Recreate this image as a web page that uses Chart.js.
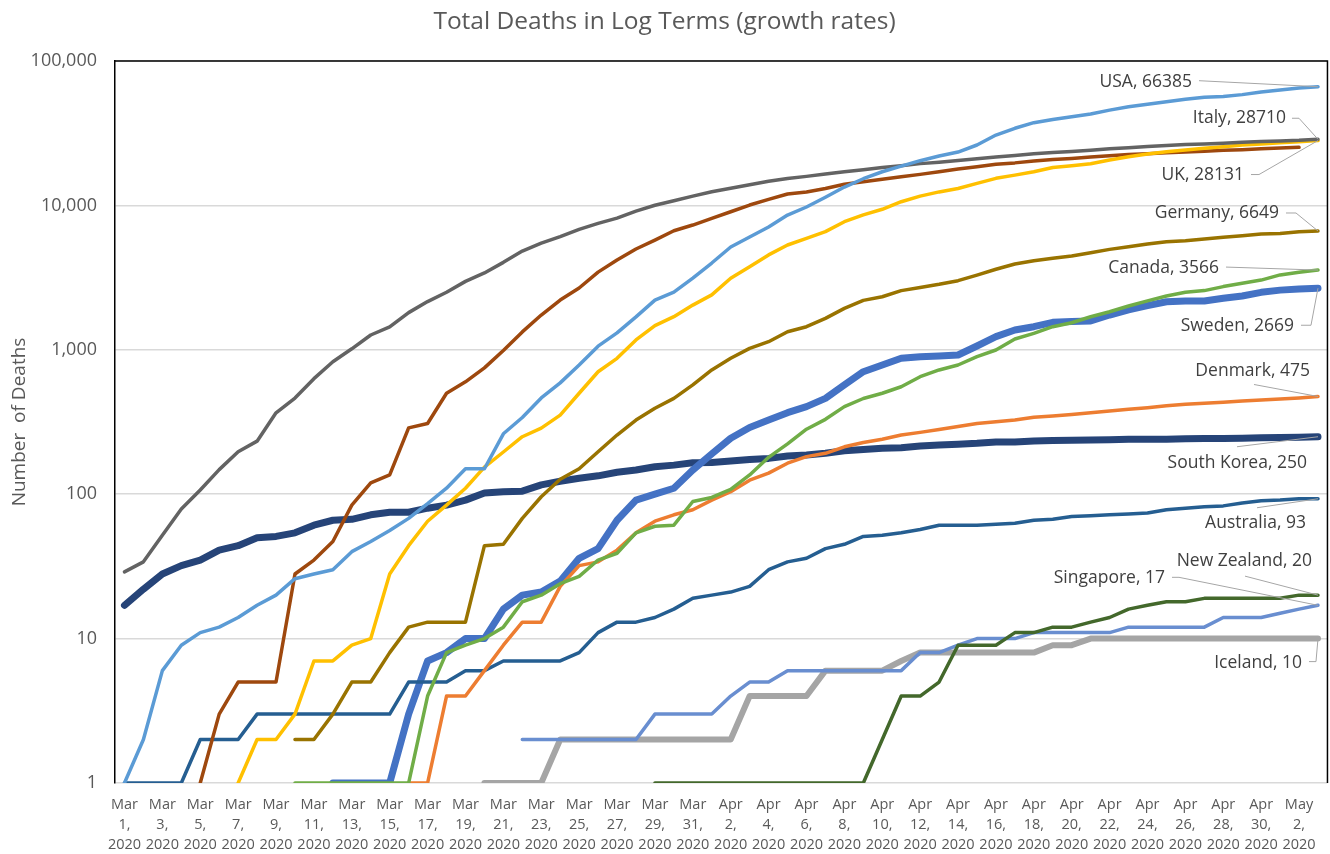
<!DOCTYPE html>
<html>
<head>
<meta charset="utf-8">
<title>Total Deaths in Log Terms</title>
<script src="https://cdn.jsdelivr.net/npm/chart.js@4.4.1/dist/chart.umd.min.js"></script>
<style>
  html, body { margin: 0; padding: 0; background: #fff; }
  #wrap { width: 1330px; height: 854px; }
</style>
</head>
<body>
<div id="wrap"><canvas id="chart-deaths" width="1330" height="854"></canvas></div>
<script>
// days Mar 1 .. May 3 2020
const days = [
  'Mar 1, 2020', 'Mar 2, 2020', 'Mar 3, 2020', 'Mar 4, 2020', 'Mar 5, 2020', 'Mar 6, 2020', 'Mar 7, 2020', 'Mar 8, 2020',
  'Mar 9, 2020', 'Mar 10, 2020', 'Mar 11, 2020', 'Mar 12, 2020', 'Mar 13, 2020', 'Mar 14, 2020', 'Mar 15, 2020', 'Mar 16, 2020',
  'Mar 17, 2020', 'Mar 18, 2020', 'Mar 19, 2020', 'Mar 20, 2020', 'Mar 21, 2020', 'Mar 22, 2020', 'Mar 23, 2020', 'Mar 24, 2020',
  'Mar 25, 2020', 'Mar 26, 2020', 'Mar 27, 2020', 'Mar 28, 2020', 'Mar 29, 2020', 'Mar 30, 2020', 'Mar 31, 2020',
  'Apr 1, 2020', 'Apr 2, 2020', 'Apr 3, 2020', 'Apr 4, 2020', 'Apr 5, 2020', 'Apr 6, 2020', 'Apr 7, 2020', 'Apr 8, 2020',
  'Apr 9, 2020', 'Apr 10, 2020', 'Apr 11, 2020', 'Apr 12, 2020', 'Apr 13, 2020', 'Apr 14, 2020', 'Apr 15, 2020', 'Apr 16, 2020',
  'Apr 17, 2020', 'Apr 18, 2020', 'Apr 19, 2020', 'Apr 20, 2020', 'Apr 21, 2020', 'Apr 22, 2020', 'Apr 23, 2020', 'Apr 24, 2020',
  'Apr 25, 2020', 'Apr 26, 2020', 'Apr 27, 2020', 'Apr 28, 2020', 'Apr 29, 2020', 'Apr 30, 2020',
  'May 1, 2020', 'May 2, 2020', 'May 3, 2020'
];

const yTicks = [1, 10, 100, 1000, 10000, 100000];

const _ = null;

// cumulative deaths, one value per day (null = not plotted)
const usa = [
  1, 2, 6, 9, 11, 12, 14, 17, 20, 26, 28, 30, 40, 47, 56, 68, 86, 110, 150, 150, 262, 340, 464, 590, 785, 1060, 1310, 1690, 2210, 2510, 3140,
  3990, 5150, 6040, 7080, 8570, 9750, 11400, 13400, 15300, 17100, 18700, 20400, 22000, 23400, 26200, 30700, 34200, 37400, 39400, 41100,
  42900, 45700, 48200, 50100, 52300, 54300, 56100, 56800, 58500, 61000,
  63000, 64900, 66385
];
const italy = [
  29, 34, 52, 79, 107, 148, 197, 233, 366, 463, 631, 827, 1016, 1266, 1441, 1809, 2158, 2503, 2978, 3405, 4032, 4825, 5476, 6077, 6820,
  7503, 8165, 9134, 10023, 10779, 11591,
  12428, 13155, 13915, 14681, 15362, 15887, 16523, 17127, 17669, 18279, 18849, 19468, 19899, 20465, 21067, 21645, 22170, 22745, 23227,
  23660, 24114, 24648, 25085, 25549, 25969, 26384, 26644, 26977, 27359, 27682,
  27967, 28236, 28710
];
const spain = [
  _, _, _, _, 1, 3, 5, 5, 5, 28, 35, 47, 84, 120, 136, 288, 309, 500, 600, 750, 990, 1330, 1740, 2210, 2680, 3450, 4190, 4990, 5750, 6680, 7310,
  8130, 9040, 10060, 11000, 12000, 12400, 13100, 14000, 14600, 15200, 15800, 16400, 17100, 17850, 18500, 19300, 19700, 20300, 20800,
  21150, 21600, 22100, 22500, 22800, 23150, 23400, 23700, 24050, 24300, 24650,
  24950, 25250, _
];
const uk = [
  _, _, _, _, _, _, 1, 2, 2, 3, 7, 7, 9, 10, 28, 44, 65, 84, 110, 154, 196, 250, 287, 353, 500, 705, 873, 1170, 1470, 1695, 2040,
  2400, 3130, 3760, 4540, 5320, 5920, 6580, 7710, 8600, 9400, 10600, 11600, 12400, 13100, 14200, 15400, 16200, 17100, 18300,
  18800, 19400, 20600, 21700, 22700, 23500, 24200, 24900, 25500, 26200, 26600,
  27200, 27600, 28131
];
const germany = [
  _, _, _, _, _, _, _, _, _, 2, 2, 3, 5, 5, 8, 12, 13, 13, 13, 44, 45, 68, 96, 127, 150, 197, 257, 326, 394, 461, 571,
  725, 873, 1023, 1138, 1334, 1445, 1650, 1936, 2200, 2330, 2570, 2700, 2840, 3010, 3290, 3610, 3930, 4140, 4300,
  4460, 4700, 4960, 5180, 5400, 5610, 5700, 5850, 6010, 6170, 6340,
  6400, 6580, 6649
];
const canada = [
  _, _, _, _, _, _, _, _, _, 1, 1, 1, 1, 1, 1, 1, 4, 8, 9, 10, 12, 18, 20, 24, 27, 35, 39, 54, 60, 61, 89,
  95, 108, 136, 180, 223, 282, 330, 404, 460, 500, 555, 651, 725, 785, 896, 997, 1188, 1300, 1445,
  1540, 1695, 1835, 2010, 2180, 2360, 2500, 2570, 2740, 2890, 3040,
  3300, 3440, 3566
];
const sweden = [
  _, _, _, _, _, _, _, _, _, _, _, 1, 1, 1, 1, 3, 7, 8, 10, 10, 16, 20, 21, 25, 36, 42, 66, 91, 100, 110, 147,
  190, 244, 290, 326, 367, 404, 461, 571, 705, 785, 873, 896, 905, 920, 1063, 1233, 1370, 1445, 1550,
  1570, 1585, 1741, 1888, 2020, 2150, 2180, 2180, 2275, 2360, 2500,
  2590, 2640, 2669
];
const denmark = [
  _, _, _, _, _, _, _, _, _, _, _, _, _, _, _, 1, 1, 4, 4, 6, 9, 13, 13, 23, 32, 34, 41, 54, 65, 72, 78,
  91, 104, 125, 140, 164, 182, 192, 213, 228, 240, 257, 268, 281, 294, 309, 318, 326, 341, 348,
  357, 367, 377, 387, 397, 410, 419, 426, 433, 442, 449,
  456, 464, 475
];
const southKorea = [
  17, 22, 28, 32, 35, 41, 44, 50, 51, 54, 61, 66, 67, 72, 75, 75, 80, 84, 91, 102, 104, 105, 116, 123, 129, 134, 142, 147, 155, 159, 165,
  166, 170, 174, 177, 184, 187, 192, 200, 204, 208, 210, 216, 219, 222, 225, 230, 230, 234, 235,
  236, 237, 238, 240, 240, 240, 242, 243, 243, 244, 246,
  247, 248, 250
];
const australia = [
  1, 1, 1, 1, 2, 2, 2, 3, 3, 3, 3, 3, 3, 3, 3, 5, 5, 5, 6, 6, 7, 7, 7, 7, 8, 11, 13, 13, 14, 16, 19,
  20, 21, 23, 30, 34, 36, 42, 45, 51, 52, 54, 57, 61, 61, 61, 62, 63, 66, 67,
  70, 71, 72, 73, 74, 78, 80, 82, 83, 87, 90,
  91, 93, 93
];
const newZealand = [
  _, _, _, _, _, _, _, _, _, _, _, _, _, _, _, _, _, _, _, _, _, _, _, _, _, _, _, _, 1, 1, 1,
  1, 1, 1, 1, 1, 1, 1, 1, 1, 2, 4, 4, 5, 9, 9, 9, 11, 11, 12,
  12, 13, 14, 16, 17, 18, 18, 19, 19, 19, 19,
  19, 20, 20
];
const singapore = [
  _, _, _, _, _, _, _, _, _, _, _, _, _, _, _, _, _, _, _, _, _, 2, 2, 2, 2, 2, 2, 2, 3, 3, 3,
  3, 4, 5, 5, 6, 6, 6, 6, 6, 6, 6, 8, 8, 9, 10, 10, 10, 11, 11,
  11, 11, 11, 12, 12, 12, 12, 12, 14, 14, 14,
  15, 16, 17
];
const iceland = [
  _, _, _, _, _, _, _, _, _, _, _, _, _, _, _, _, _, _, _, 1, 1, 1, 1, 2, 2, 2, 2, 2, 2, 2, 2,
  2, 2, 4, 4, 4, 4, 6, 6, 6, 6, 7, 8, 8, 8, 8, 8, 8, 8, 9,
  9, 10, 10, 10, 10, 10, 10, 10, 10, 10, 10,
  10, 10, 10
];

const series = [
  { name: 'USA', data: usa, color: '#5B9BD5', width: 3.5 },
  { name: 'Italy', data: italy, color: '#636363', width: 3.5 },
  { name: 'UK', data: uk, color: '#FFC000', width: 3.5 },
  { name: 'Spain', data: spain, color: '#9E480E', width: 3.5 },
  { name: 'Germany', data: germany, color: '#997300', width: 3.5 },
  { name: 'Canada', data: canada, color: '#70AD47', width: 3.5 },
  { name: 'Denmark', data: denmark, color: '#ED7D31', width: 3.5 },
  { name: 'Australia', data: australia, color: '#255E91', width: 3.5 },
  { name: 'New Zealand', data: newZealand, color: '#43682B', width: 3.5 },
  { name: 'Singapore', data: singapore, color: '#698ED0', width: 3.5 },
  { name: 'Sweden', data: sweden, color: '#4472C4', width: 7 },
  { name: 'South Korea', data: southKorea, color: '#264478', width: 7 },
  { name: 'Iceland', data: iceland, color: '#A5A5A5', width: 6 }
];

// where each end label sits, relative to the last point of its line
const endLabels = [
  { name: 'USA', tx: -126, ty: -5, leader: [[-119, -6]] },
  { name: 'Italy', tx: -32, ty: -21, leader: [[-26, -21], [-19, -21]] },
  { name: 'UK', tx: -74, ty: 34, leader: [[-67, 34], [-59, 34]] },
  { name: 'Germany', tx: -39, ty: -18, leader: [[-32, -18], [-22, -18]] },
  { name: 'Canada', tx: -99, ty: -2, leader: [[-92, -3]] },
  { name: 'Sweden', tx: -24, ty: 38, leader: [[-17, 37], [-7, 37]] },
  { name: 'Denmark', tx: -8, ty: -25, leader: [[-64, -12]] },
  { name: 'South Korea', tx: -11, ty: 26, leader: [[-81, 10]] },
  { name: 'Australia', tx: -12, ty: 24, leader: [[-61, 9]] },
  { name: 'New Zealand', tx: -6, ty: -34, leader: [[-73, -19]] },
  { name: 'Singapore', tx: -153, ty: -27, leader: [[-146, -28], [-139, -28]] },
  { name: 'Iceland', tx: -16, ty: 24, leader: [[-9, 23], [-2, 23]] }
];

Chart.defaults.font.family = "'Open Sans', sans-serif";

const framePlugin = {
  id: 'frame',
  beforeDatasetsDraw(chart) {
    const { ctx, chartArea: a } = chart;
    ctx.save();
    ctx.strokeStyle = '#000';
    ctx.lineWidth = 1.5;
    ctx.beginPath();
    ctx.moveTo(a.left, a.top);
    ctx.lineTo(a.right, a.top);
    ctx.lineTo(a.right, a.bottom);
    ctx.stroke();
    ctx.restore();
  }
};

const labelPlugin = {
  id: 'endLabels',
  afterDatasetsDraw(chart) {
    const { ctx, scales: { x, y } } = chart;
    ctx.save();
    ctx.font = "17.5px 'Open Sans', sans-serif";
    ctx.textAlign = 'right';
    ctx.textBaseline = 'middle';
    endLabels.forEach(lb => {
      const ds = chart.data.datasets.find(d => d.label === lb.name);
      const vals = ds.data;
      let i = vals.length - 1;
      while (vals[i] == null) i--;
      const px = x.getPixelForValue(i);
      const py = y.getPixelForValue(vals[i]);
      ctx.strokeStyle = '#a6a6a6';
      ctx.lineWidth = 1;
      ctx.beginPath();
      lb.leader.forEach((p, k) => {
        if (k === 0) ctx.moveTo(px + p[0], py + p[1]);
        else ctx.lineTo(px + p[0], py + p[1]);
      });
      ctx.lineTo(px, py);
      ctx.stroke();
      ctx.fillStyle = '#404040';
      ctx.fillText(lb.name + ', ' + vals[i], px + lb.tx, py + lb.ty);
    });
    ctx.restore();
  }
};

const ctx = document.getElementById('chart-deaths').getContext('2d');

new Chart(ctx, {
  type: 'line',
  data: {
    labels: days,
    datasets: series.map(s => ({
      label: s.name,
      data: s.data,
      borderColor: s.color,
      backgroundColor: s.color,
      borderWidth: s.width,
      pointRadius: 0,
      tension: 0,
      fill: false,
      spanGaps: false,
      borderJoinStyle: 'round',
      borderCapStyle: 'round'
    }))
  },
  options: {
    responsive: false,
    animation: false,
    layout: { padding: { left: 0, right: 1, top: 0, bottom: 0 } },
    plugins: {
      legend: { display: false },
      tooltip: { enabled: false },
      title: {
        display: true,
        text: 'Total Deaths in Log Terms (growth rates)',
        color: '#595959',
        font: { size: 24.5, weight: 'normal' },
        padding: { top: 7, bottom: 24.6 }
      }
    },
    scales: {
      x: {
        type: 'category',
        offset: true,
        afterFit: s => { s.height = 71; },
        grid: { display: false, drawTicks: false },
        border: { display: false },
        ticks: {
          autoSkip: false,
          maxRotation: 0,
          minRotation: 0,
          padding: 12,
          color: '#595959',
          font: { size: 14.5, lineHeight: '20px' },
          callback: function (v, i) {
            if (i % 2) return '';
            const p = this.getLabelForValue(v).split(' ');
            return [p[0], p[1], p[2]];
          }
        }
      },
      y: {
        type: 'logarithmic',
        min: 1,
        max: 100000,
        afterBuildTicks: s => { s.ticks = yTicks.map(v => ({ value: v })); },
        afterFit: s => { s.width = 115; },
        grid: { color: '#d9d9d9', lineWidth: 1.5, drawTicks: false },
        border: { display: true, color: '#000', width: 1.5 },
        ticks: {
          color: '#595959',
          padding: 18,
          font: { size: 18 },
          callback: v => Number(v).toLocaleString('en-US')
        },
        title: {
          display: true,
          text: 'Number  of Deaths',
          color: '#595959',
          font: { size: 19 },
          padding: { top: 8, bottom: 0 }
        }
      }
    }
  },
  plugins: [framePlugin, labelPlugin]
});
</script>
</body>
</html>
